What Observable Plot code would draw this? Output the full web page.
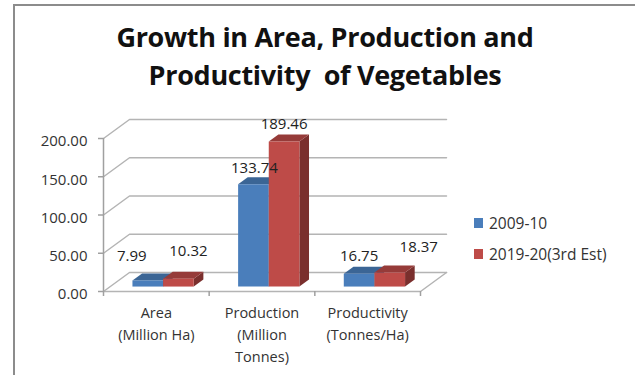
<!DOCTYPE html>
<html>
<head>
<meta charset="utf-8">
<script src="https://cdn.jsdelivr.net/npm/d3@7"></script>
<script src="https://cdn.jsdelivr.net/npm/@observablehq/plot@0.6"></script>
<style>
  html, body { margin: 0; padding: 0; background: #fff; }
  #frame { position: relative; width: 635px; height: 375px; overflow: hidden; font-family: "Open Sans", sans-serif; color: #222; }
  #edge { position: absolute; left: 13px; top: 4px; right: 0; bottom: 0; border-left: 2px solid #8c8c8c; border-top: 2px solid #8c8c8c; }
  #title { position: absolute; left: 0; top: 18px; width: 650px; text-align: center; font-size: 27px; letter-spacing: -0.3px; font-weight: 700; line-height: 38px; color: #111; white-space: pre; }
  #chart { position: absolute; left: 0; top: 105px; }
  #legend { position: absolute; left: 474px; top: 207px; font-size: 15.5px; color: #333; }
  #legend div { display: flex; align-items: center; height: 31px; }
  #legend i { width: 9px; height: 10px; margin-right: 6px; display: block; }
</style>
</head>
<body>
<div id="frame">
  <div id="edge"></div>
  <div id="title">Growth in Area, Production and
Productivity  of Vegetables</div>
  <div id="chart"></div>
  <div id="legend"></div>
</div>
<script>
// Measures and seasons
const categories = ["Area\n(Million Ha)", "Production\n(Million\nTonnes)", "Productivity\n(Tonnes/Ha)"];
const seriesNames = ["2009-10", "2019-20(3rd Est)"];
const values2009 = [7.99, 133.74, 16.75];
const values2019 = [10.32, 189.46, 18.37];
const yTicks = [0, 50, 100, 150, 200];

// Face colours per series: front, top, side
const frontColors = ["#4a7ebb", "#be4b48"];
const topColors = ["#3b6595", "#963b39"];
const sideColors = ["#2f5078", "#7a2f2d"];

// Hand-placed value label nudges, in pixels, per series and category
const labelDx = [[-16, 1, 0], [10, 0, 29]];
const labelDy = [[-24, -16, -18], [-27, -17, -25]];

// Oblique projection: depth 0 is the front of the floor, depth 1 the back wall.
const depthX = 26 / 105.67; // category units per unit of depth
const depthY = 19 / 0.765;  // value units per unit of depth
const project = (cat, val, depth) => ({x: cat + depth * depthX, y: val + depth * depthY});

const barWidth = 0.29;
const depthFront = 0.26;
const depthBack = 0.63;

// Build the three visible faces of every bar as filled outlines
const bars = [];
[values2009, values2019].forEach((vals, s) => {
  vals.forEach((v, c) => {
    const x0 = c + 0.5 - barWidth + s * barWidth;
    bars.push({s, c, v, x0, x1: x0 + barWidth});
  });
});

const outline = (b, face) => {
  const {x0, x1, v} = b;
  const corners = face === "front"
    ? [[x0, 0, depthFront], [x1, 0, depthFront], [x1, v, depthFront], [x0, v, depthFront]]
    : face === "top"
    ? [[x0, v, depthFront], [x1, v, depthFront], [x1, v, depthBack], [x0, v, depthBack]]
    : [[x1, 0, depthFront], [x1, 0, depthBack], [x1, v, depthBack], [x1, v, depthFront]];
  return corners.map(([c, val, d]) => ({...project(c, val, d), key: `${b.s}-${b.c}-${face}`}));
};

const faceMarks = bars.flatMap((b) => [
  Plot.line(outline(b, "side"), {x: "x", y: "y", z: "key", fill: sideColors[b.s], stroke: null}),
  Plot.line(outline(b, "top"), {x: "x", y: "y", z: "key", fill: topColors[b.s], stroke: null}),
  Plot.line(outline(b, "front"), {x: "x", y: "y", z: "key", fill: frontColors[b.s], stroke: null})
]);

// Floor edges and grid: each level runs from the front axis to the back wall and across
const gridColor = "#b4b4b4";
const gridMarks = yTicks.map((t) => Plot.line(
  [project(0, t, 0), project(0, t, 1), project(3, t, 1)],
  {x: "x", y: "y", stroke: gridColor, strokeWidth: 1.5}
));
const floorLine = Plot.line(
  [project(0, 0, 0), project(3, 0, 0), project(3, 0, 1)],
  {x: "x", y: "y", stroke: gridColor, strokeWidth: 1.5}
);
const valueAxisLine = Plot.line(
  [project(0, 0, 0), project(0, 200, 0)],
  {x: "x", y: "y", stroke: "#a0a0a0", strokeWidth: 1.5}
);

const labelRows = bars.map((b) => {
  const p = project((b.x0 + b.x1) / 2, b.v, depthFront);
  return {...p, text: b.v.toFixed(2), dx: labelDx[b.s][b.c], dy: labelDy[b.s][b.c]};
});
const valueLabels = labelRows.map((r) => Plot.text([r], {
  x: "x", y: "y", text: "text", dx: r.dx, dy: r.dy, fontSize: 15, fill: "#222"
}));

const chart = Plot.plot({
  width: 635,
  height: 270,
  marginLeft: 103,
  marginRight: 215,
  marginTop: 33,
  marginBottom: 84,
  style: {fontFamily: "'Open Sans', sans-serif", background: "transparent", overflow: "visible"},
  x: {domain: [0, 3]},
  y: {domain: [0, 200]},
  marks: [
    ...gridMarks,
    floorLine,
    valueAxisLine,
    // Tick marks and tick labels are separate so the labels can sit slightly lower
    Plot.axisY({
      ticks: yTicks, tickFormat: () => "", tickSize: 5,
      stroke: "#a0a0a0", strokeWidth: 1.5, label: null
    }),
    Plot.axisY({
      ticks: yTicks, tickFormat: (d) => d.toFixed(2), tickSize: 0, tickPadding: 16, dy: 3,
      fontSize: 15, label: null, fill: "#333"
    }),
    Plot.axisX({
      ticks: [0, 1, 2, 3], tickFormat: () => "", tickSize: 5, stroke: "#a0a0a0",
      strokeWidth: 1.5, label: null
    }),
    ...faceMarks,
    ...valueLabels,
    Plot.text(categories, {
      x: (d, i) => i + 0.5, y: () => 0, text: (d) => d, lineAnchor: "top", dy: 11,
      lineHeight: 1.52, fontSize: 14.5, fill: "#333"
    })
  ]
});
document.getElementById("chart").append(chart);

// Legend beside the plot
const legend = document.getElementById("legend");
seriesNames.forEach((name, i) => {
  const row = document.createElement("div");
  const swatch = document.createElement("i");
  swatch.style.background = frontColors[i];
  row.append(swatch, name);
  legend.append(row);
});
</script>
</body>
</html>
